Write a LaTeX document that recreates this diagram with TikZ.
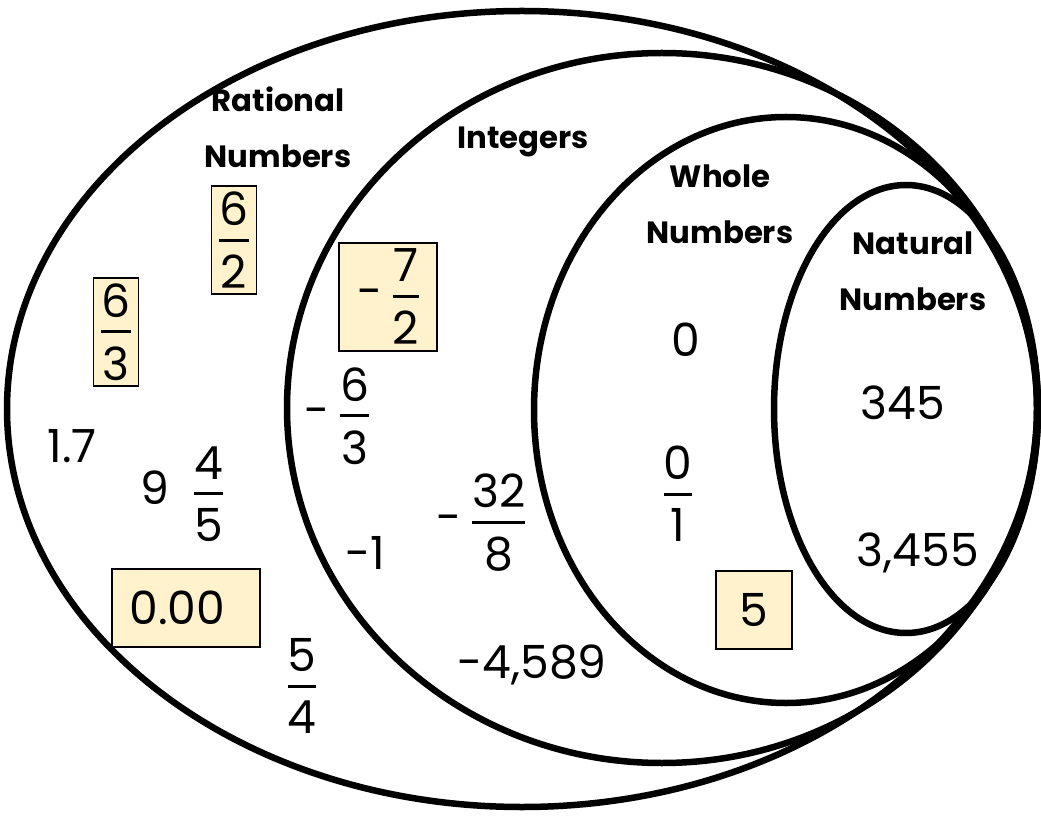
\documentclass[tikz,border=0pt]{standalone}
\usepackage{fontspec}
\setmainfont{Poppins}
\usetikzlibrary{positioning}
\definecolor{boxFill}{HTML}{FFF2CC}
\tikzset{
    setLine/.style={line width=3.7pt},
    setLabel/.style={
        font=\fontsize{17.5}{32}\selectfont\bfseries,
        align=center,
        inner sep=0pt
    },
    numText/.style={font=\fontsize{26}{30}\selectfont, inner sep=0pt},
    hiBox/.style={
        draw=black,
        line width=0.8pt,
        fill=boxFill,
        inner sep=0pt,
        font=\fontsize{26}{30}\selectfont
    }
}
\newcommand{\frc}[2]{$\vcenter{\offinterlineskip\halign{\hfil##\hfil\cr #1\cr\noalign{\kern7.5pt}\leaders\hrule height1.7pt\hfill\cr\noalign{\kern7.5pt}#2\cr}}$}

\begin{document}
\begin{tikzpicture}[x=0.02cm, y=-0.02cm]
    \useasboundingbox (0,0) rectangle (1041,817);

    % Sets
    \draw[setLine] (522,409) ellipse [x radius=515, y radius=398];
    \draw[setLine] (662,408) ellipse [x radius=375, y radius=355];
    \draw[setLine] (786,410) ellipse [x radius=252, y radius=293];
    \draw[setLine] (906,409) ellipse [x radius=132, y radius=224];

    % Set names
    \node[setLabel] (ratLbl) at (278,127) {Rational\\Numbers};
    \node[setLabel] (intLbl) at (523,142) {Integers};
    \node[setLabel] (wholeLbl) at (720,204) {Whole\\Numbers};
    \node[setLabel] (natLbl) at (913,271) {Natural\\Numbers};

    % Highlighted members
    \node[hiBox, minimum width=0.9cm, minimum height=2.16cm] (sixHalf) at (234,240) {\frc{6}{2}};
    \node[hiBox, minimum width=0.9cm, minimum height=2.16cm] (sixThird) at (116,332) {\frc{6}{3}};
    \node[hiBox, minimum width=1.96cm, minimum height=2.16cm] (negSevenHalf) at (388,297) {-\kern6pt\frc{7}{2}};
    \node[hiBox, minimum width=2.96cm, minimum height=1.56cm] (zeroDec) at (186,608) {0.00\kern10pt};
    \node[hiBox, minimum width=1.52cm, minimum height=1.56cm] (five) at (754,610) {5};

    % Rational numbers
    \node[numText] (oneSeven) at (72,446) {1.7};
    \node[numText] (nineFour) at (182,494) {9\kern14pt\frc{4}{5}};
    \node[numText] (fiveQuart) at (302,686) {\frc{5}{4}};

    % Integers
    \node[numText] (negSixThird) at (337,416) {-\kern6pt\frc{6}{3}};
    \node[numText] (negOne) at (365,553) {-1};
    \node[numText] (negThirtyTwo) at (481,523) {-\kern6pt\frc{32}{8}};
    \node[numText] (negBig) at (532,665) {-4,589};

    % Whole numbers
    \node[numText] (zero) at (686,340) {0};
    \node[numText] (zeroOne) at (678,494) {\frc{0}{1}};

    % Natural numbers
    \node[numText] (small) at (903,403) {345};
    \node[numText] (big) at (918,553) {3,455};
\end{tikzpicture}
\end{document}
